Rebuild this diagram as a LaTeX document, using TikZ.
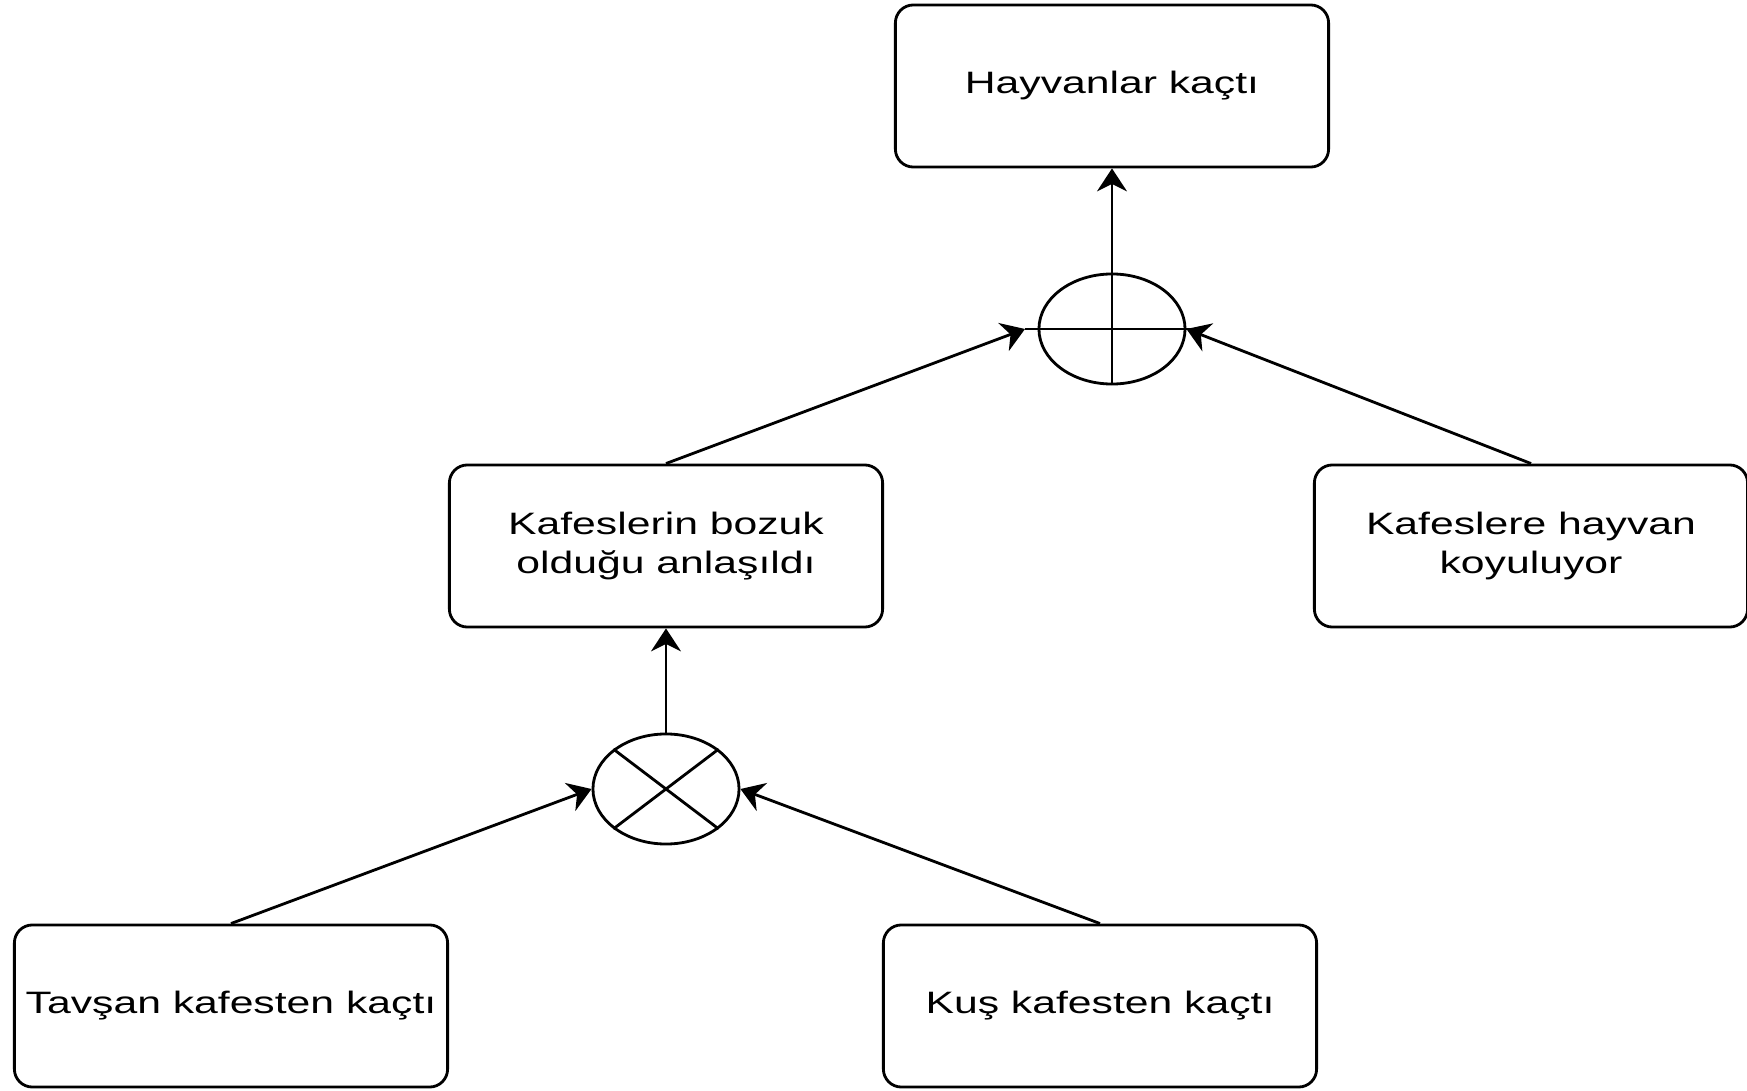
\documentclass[tikz,border=0pt]{standalone}
\usepackage{fontspec}
\newfontfamily\boxfont[FakeStretch=1.38]{Liberation Sans}
\usetikzlibrary{arrows.meta,shapes.geometric}

\begin{document}
\begin{tikzpicture}[%
  x=0.01cm, y=-0.01cm,
  line width=0.8pt,
  event/.style = {draw, rounded corners=0.18cm, minimum width=4.33cm,
    minimum height=1.62cm, align=center, inner sep=0pt,
    font=\boxfont\fontsize{8.8}{11.2}\selectfont},
  gate/.style = {draw, ellipse, minimum width=1.46cm, minimum height=1.10cm,
    inner sep=0pt},
  >={Stealth[length=6.5pt, width=8.5pt]},
]
  \useasboundingbox (0,0) rectangle (1747,1091);

  \node[event] (Hayvan) at (1112, 86) {Hayvanlar kaçtı};
  \node[event] (Bozuk) at (666, 546) {Kafeslerin bozuk\\olduğu anlaşıldı};
  \node[event] (Koyul) at (1531, 546) {Kafeslere hayvan\\koyuluyor};
  \node[event] (Tavsan) at (231, 1006) {Tavşan kafesten kaçtı};
  \node[event] (Kus) at (1100, 1006) {Kuş kafesten kaçtı};

  % OR gate
  \node[gate] (Or) at (1112, 329) {};
  \coordinate (OrL) at (1025, 329);
  \coordinate (OrR) at (1205, 329);
  \draw (OrL) -- (OrR);

  % AND gate
  \node[gate] (And) at (666, 789) {};
  \draw (And.north west) -- (And.south east)
        (And.north east) -- (And.south west);

  \draw[->] (Or.south) -- (Hayvan.south);
  \draw[->] (Bozuk.north) -- (OrL);
  \draw[->] (Koyul.north) -- (Or.east);

  \draw[->] (And.north) -- (Bozuk.south);
  \draw[->] (Tavsan.north) -- (And.west);
  \draw[->] (Kus.north) -- (And.east);

\end{tikzpicture}
\end{document}
